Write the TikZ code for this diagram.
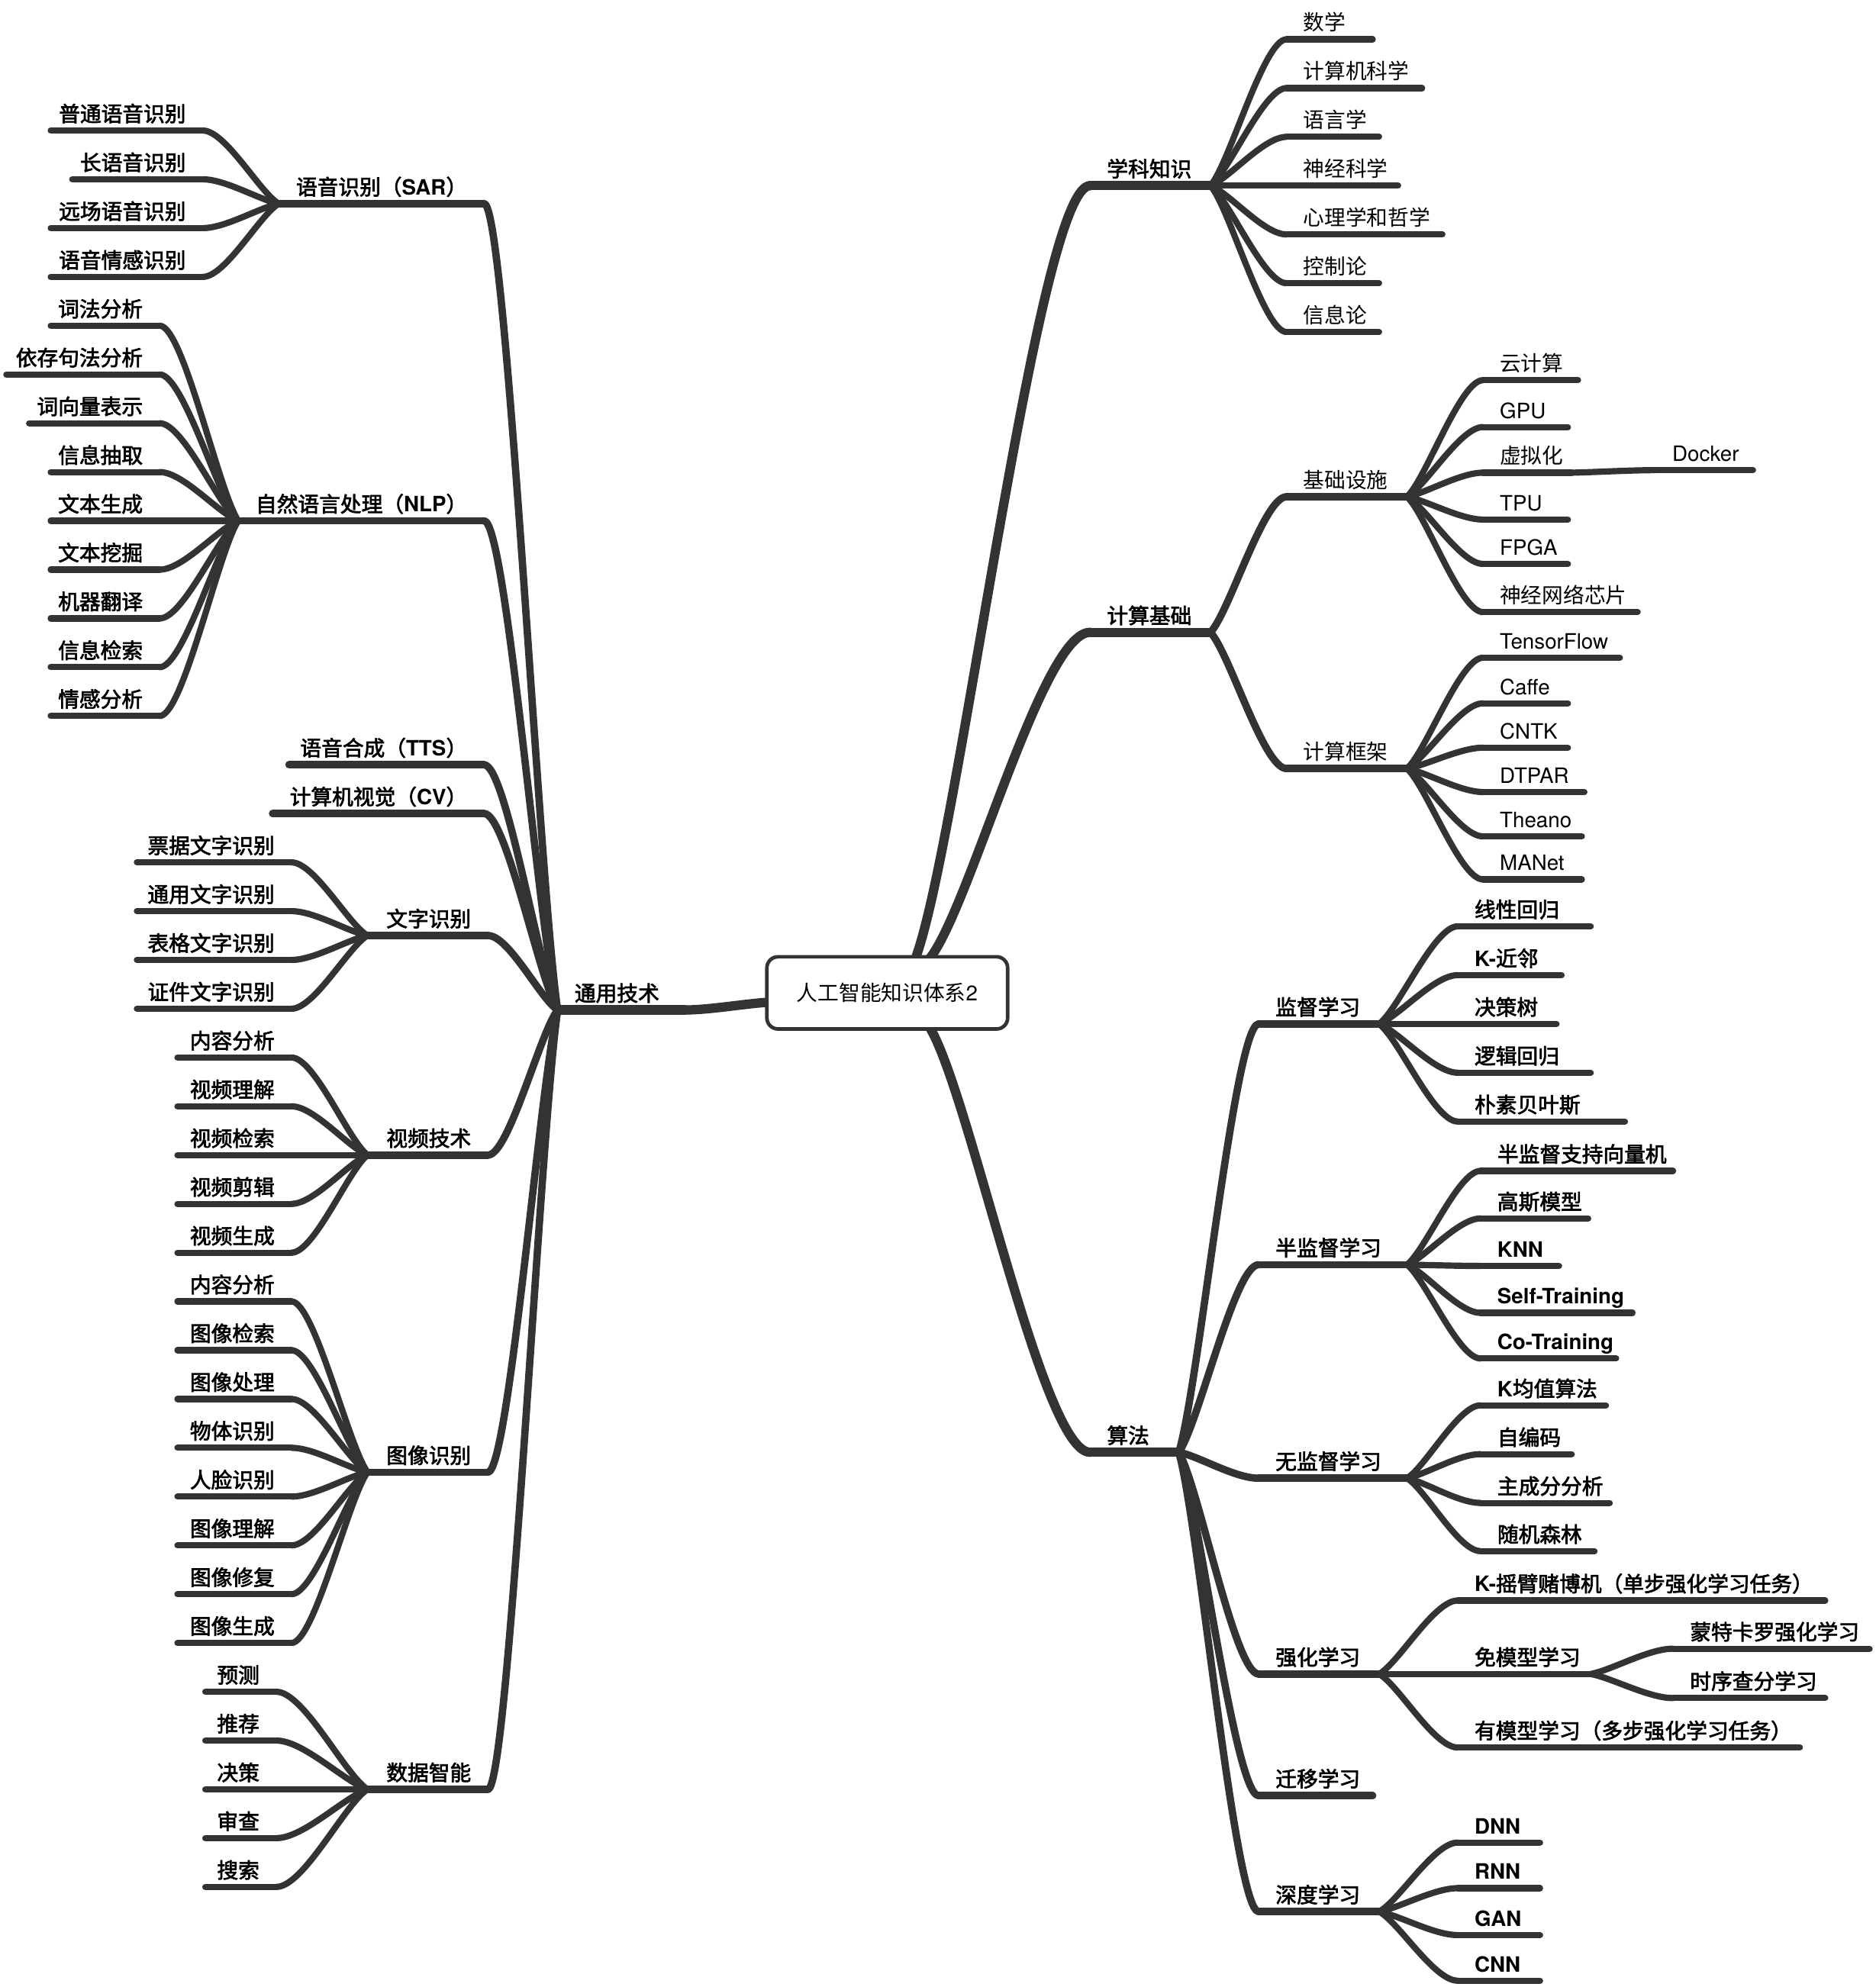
\documentclass[tikz,border=0pt]{standalone}
\usepackage{fontspec}
\setmainfont{Noto Sans CJK SC}[BoldFont={Noto Sans CJK SC}, BoldFeatures={FakeBold=2.5}]
\newfontfamily\lat{TeX Gyre Heros}
\usetikzlibrary{calc}
\definecolor{ln}{RGB}{51,51,51}
\tikzset{
  lf/.style={draw=ln, line width=2.8pt, line cap=round, line join=round},
  md/.style={line width=3.3pt},
  rt/.style={line width=4.2pt},
  tx/.style={inner sep=0pt, font=\fontsize{9.5pt}{11pt}\selectfont, text=black}
}
% right-growing topic: [opts]{name}{xs}{xe}{y}{font}{text}
\newcommand\tR[7][]{%
  \coordinate (#2-s) at (#3,#5);
  \coordinate (#2-e) at (#4,#5);
  \draw[lf,#1] (#2-s) -- (#2-e);
  \node[tx,anchor=base west] (#2) at ({#3+13},{#5-7}) {#6#7};
}
% left-growing topic
\newcommand\tL[7][]{%
  \coordinate (#2-s) at (#3,#5);
  \coordinate (#2-e) at (#4,#5);
  \draw[lf,#1] (#2-s) -- (#2-e);
  \node[tx,anchor=base east] (#2) at ({#4-13},{#5-7}) {#6#7};
}
% curved connector
\newcommand\lk[3][]{\draw[lf,#1] let \p1=(#2),\p2=(#3) in (\p1) .. controls ({\x1+0.25*(\x2-\x1)},{\y1+0.15*(\y2-\y1)}) and ({\x1+0.7*(\x2-\x1)},{\y2}) .. (\p2);}
\begin{document}
\begin{tikzpicture}[x=0.02cm,y=-0.02cm]
\useasboundingbox (0,0) rectangle (1480,1568);
\fill[white] (0,0) rectangle (1480,1568);

\coordinate (rootL) at (605,791);
\coordinate (rootT1) at (722,757);
\coordinate (rootT2) at (733,757);
\coordinate (rootB) at (733,810);

% level 1
\tR[rt]{ty}{440}{540}{797}{\bfseries}{通用技术}
\tR[rt]{xk}{860}{955}{146.5}{\bfseries}{学科知识}
\tR[rt]{js}{860}{955}{499}{\bfseries}{计算基础}
\tR[rt]{sf}{860}{930}{1146}{\bfseries}{算法}
\lk[rt]{rootL}{ty-e}
\lk[rt]{rootT1}{xk-s}
\lk[rt]{rootT2}{js-s}
\lk[rt]{rootB}{sf-s}

\node[draw=ln, line width=1.6pt, rounded corners=5pt, minimum width=3.8cm, minimum height=1.14cm, inner sep=0pt, fill=white, tx] (root) at (700,783.5) {人工智能知识体系{\lat 2}};

% left level 2
\tL[md]{sar}{220}{382}{160.75}{\bfseries}{语音识别（{\lat SAR}）}
\tL[md]{nlp}{188}{382}{411}{\bfseries}{自然语言处理（{\lat NLP}）}
\tL[md]{tts}{228}{382}{603.5}{\bfseries}{语音合成（{\lat TTS}）}
\tL[md]{cv}{215}{382}{642}{\bfseries}{计算机视觉（{\lat CV}）}
\tL[md]{wz}{290}{385}{738.25}{\bfseries}{文字识别}
\tL[md]{sp}{290}{385}{911.5}{\bfseries}{视频技术}
\tL[md]{tx}{290}{385}{1161.75}{\bfseries}{图像识别}
\tL[md]{sj}{290}{385}{1412}{\bfseries}{数据智能}
\foreach \c in {sar,nlp,tts,cv,wz,sp,tx,sj} {\lk[md]{ty-s}{\c-e}}

% SAR leaves
\tL{la1}{40}{160}{103}{\bfseries}{普通语音识别}
\tL{la2}{57}{160}{141.5}{\bfseries}{长语音识别}
\tL{la3}{40}{160}{180}{\bfseries}{远场语音识别}
\tL{la4}{40}{160}{218.5}{\bfseries}{语音情感识别}
\foreach \c in {la1,la2,la3,la4} {\lk{sar-s}{\c-e}}

% NLP leaves
\tL{lb1}{40}{126}{257}{\bfseries}{词法分析}
\tL{lb2}{5}{126}{295.5}{\bfseries}{依存句法分析}
\tL{lb3}{23}{126}{334}{\bfseries}{词向量表示}
\tL{lb4}{40}{126}{372.5}{\bfseries}{信息抽取}
\tL{lb5}{40}{126}{411}{\bfseries}{文本生成}
\tL{lb6}{40}{126}{449.5}{\bfseries}{文本挖掘}
\tL{lb7}{40}{126}{488}{\bfseries}{机器翻译}
\tL{lb8}{40}{126}{526.5}{\bfseries}{信息检索}
\tL{lb9}{40}{126}{565}{\bfseries}{情感分析}
\foreach \c in {lb1,lb2,lb3,lb4,lb5,lb6,lb7,lb8,lb9} {\lk{nlp-s}{\c-e}}

% text recognition leaves
\tL{lc1}{108}{230}{680.5}{\bfseries}{票据文字识别}
\tL{lc2}{108}{230}{719}{\bfseries}{通用文字识别}
\tL{lc3}{108}{230}{757.5}{\bfseries}{表格文字识别}
\tL{lc4}{108}{230}{796}{\bfseries}{证件文字识别}
\foreach \c in {lc1,lc2,lc3,lc4} {\lk{wz-s}{\c-e}}

% video leaves
\tL{ld1}{140}{230}{834.5}{\bfseries}{内容分析}
\tL{ld2}{140}{230}{873}{\bfseries}{视频理解}
\tL{ld3}{140}{230}{911.5}{\bfseries}{视频检索}
\tL{ld4}{140}{230}{950}{\bfseries}{视频剪辑}
\tL{ld5}{140}{230}{988.5}{\bfseries}{视频生成}
\foreach \c in {ld1,ld2,ld3,ld4,ld5} {\lk{sp-s}{\c-e}}

% image leaves
\tL{le1}{140}{230}{1027}{\bfseries}{内容分析}
\tL{le2}{140}{230}{1065.5}{\bfseries}{图像检索}
\tL{le3}{140}{230}{1104}{\bfseries}{图像处理}
\tL{le4}{140}{230}{1142.5}{\bfseries}{物体识别}
\tL{le5}{140}{230}{1181}{\bfseries}{人脸识别}
\tL{le6}{140}{230}{1219.5}{\bfseries}{图像理解}
\tL{le7}{140}{230}{1258}{\bfseries}{图像修复}
\tL{le8}{140}{230}{1296.5}{\bfseries}{图像生成}
\foreach \c in {le1,le2,le3,le4,le5,le6,le7,le8} {\lk{tx-s}{\c-e}}

% data intelligence leaves
\tL{lg1}{162}{218}{1335}{\bfseries}{预测}
\tL{lg2}{162}{218}{1373.5}{\bfseries}{推荐}
\tL{lg3}{162}{218}{1412}{\bfseries}{决策}
\tL{lg4}{162}{218}{1450.5}{\bfseries}{审查}
\tL{lg5}{162}{218}{1489}{\bfseries}{搜索}
\foreach \c in {lg1,lg2,lg3,lg4,lg5} {\lk{sj-s}{\c-e}}

% subject knowledge leaves
\tR{ra1}{1015}{1083}{31}{}{数学}
\tR{ra2}{1015}{1122}{69.5}{}{计算机科学}
\tR{ra3}{1015}{1088}{108}{}{语言学}
\tR{ra4}{1015}{1103}{146.5}{}{神经科学}
\tR{ra5}{1015}{1138}{185}{}{心理学和哲学}
\tR{ra6}{1015}{1088}{223.5}{}{控制论}
\tR{ra7}{1015}{1088}{262}{}{信息论}
\foreach \c in {ra1,ra2,ra3,ra4,ra5,ra6,ra7} {\lk{xk-e}{\c-s}}

% computing basis
\tR[md]{jc}{1015}{1110}{392}{}{基础设施}
\tR[md]{kj}{1015}{1110}{606.5}{}{计算框架}
\lk[md]{js-e}{jc-s}
\lk[md]{js-e}{kj-s}

\tR{rb1}{1170}{1245}{300}{}{云计算}
\tR{rb2}{1170}{1237}{337}{\lat}{GPU}
\tR{rb3}{1170}{1240}{373}{}{虚拟化}
\tR{rb4}{1170}{1237}{410}{\lat}{TPU}
\tR{rb5}{1170}{1237}{445}{\lat}{FPGA}
\tR{rb6}{1170}{1292}{483}{}{神经网络芯片}
\foreach \c in {rb1,rb2,rb3,rb4,rb5,rb6} {\lk{jc-e}{\c-s}}
\tR{dk}{1306}{1383}{371}{\lat}{Docker}
\lk{rb3-e}{dk-s}

\tR{rc1}{1170}{1278}{519}{\lat}{TensorFlow}
\tR{rc2}{1170}{1237}{555}{\lat}{Caffe}
\tR{rc3}{1170}{1237}{590}{\lat}{CNTK}
\tR{rc4}{1170}{1250}{625}{\lat}{DTPAR}
\tR{rc5}{1170}{1248}{660}{\lat}{Theano}
\tR{rc6}{1170}{1248}{694}{\lat}{MANet}
\foreach \c in {rc1,rc2,rc3,rc4,rc5,rc6} {\lk{kj-e}{\c-s}}

% algorithms
\tR[md]{jd}{993}{1088}{808}{\bfseries}{监督学习}
\tR[md]{bj}{993}{1110}{998}{\bfseries}{半监督学习}
\tR[md]{wj}{993}{1110}{1166.5}{\bfseries}{无监督学习}
\tR[md]{qh}{993}{1088}{1321}{\bfseries}{强化学习}
\tR[md]{qy}{993}{1083}{1417}{\bfseries}{迁移学习}
\tR[md]{sd}{993}{1088}{1508.5}{\bfseries}{深度学习}
\foreach \c in {jd,bj,wj,qh,qy,sd} {\lk[md]{sf-e}{\c-s}}

\tR{rd1}{1150}{1255}{731}{\bfseries}{线性回归}
\tR{rd2}{1150}{1232}{769.5}{\bfseries}{{\lat K-}近邻}
\tR{rd3}{1150}{1228}{808}{\bfseries}{决策树}
\tR{rd4}{1150}{1255}{846.5}{\bfseries}{逻辑回归}
\tR{rd5}{1150}{1282}{885}{\bfseries}{朴素贝叶斯}
\foreach \c in {rd1,rd2,rd3,rd4,rd5} {\lk{jd-e}{\c-s}}

\tR{re1}{1168}{1320}{924}{\bfseries}{半监督支持向量机}
\tR{re2}{1168}{1253}{961.5}{\bfseries}{高斯模型}
\tR{re3}{1168}{1230}{999}{\bfseries\lat}{KNN}
\tR{re4}{1168}{1288}{1036}{\bfseries\lat}{Self-Training}
\tR{re5}{1168}{1275}{1072}{\bfseries\lat}{Co-Training}
\foreach \c in {re1,re2,re3,re4,re5} {\lk{bj-e}{\c-s}}

\tR{rf1}{1168}{1267}{1109}{\bfseries}{{\lat K}均值算法}
\tR{rf2}{1168}{1240}{1147.5}{\bfseries}{自编码}
\tR{rf3}{1168}{1270}{1186}{\bfseries}{主成分分析}
\tR{rf4}{1168}{1258}{1224}{\bfseries}{随机森林}
\foreach \c in {rf1,rf2,rf3,rf4} {\lk{wj-e}{\c-s}}

\tR{rg1}{1150}{1440}{1263}{\bfseries}{{\lat K-}摇臂赌博机（单步强化学习任务）}
\tR{rg2}{1150}{1255}{1321}{\bfseries}{免模型学习}
\tR{rg3}{1150}{1420}{1379}{\bfseries}{有模型学习（多步强化学习任务）}
\foreach \c in {rg1,rg2,rg3} {\lk{qh-e}{\c-s}}
\tR{rh1}{1320}{1475}{1301}{\bfseries}{蒙特卡罗强化学习}
\tR{rh2}{1320}{1440}{1340}{\bfseries}{时序查分学习}
\foreach \c in {rh1,rh2} {\lk{rg2-e}{\c-s}}

\tR{ri1}{1150}{1215}{1454}{\bfseries\lat}{DNN}
\tR{ri2}{1150}{1215}{1490}{\bfseries\lat}{RNN}
\tR{ri3}{1150}{1215}{1527}{\bfseries\lat}{GAN}
\tR{ri4}{1150}{1215}{1563}{\bfseries\lat}{CNN}
\foreach \c in {ri1,ri2,ri3,ri4} {\lk{sd-e}{\c-s}}
\end{tikzpicture}
\end{document}
